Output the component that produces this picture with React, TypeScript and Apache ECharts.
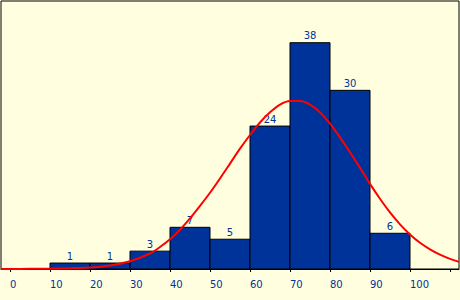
import React, { useEffect, useRef } from "react";
import * as echarts from "echarts";

const binStarts = [10, 20, 30, 40, 50, 60, 70, 80, 90];
const binWidth = 10;
const counts = [1, 1, 3, 7, 5, 24, 38, 30, 6];
const tickValues = [0, 10, 20, 30, 40, 50, 60, 70, 80, 90, 100, 110];
const labelValues = [0, 10, 20, 30, 40, 50, 60, 70, 80, 90, 100];
const curveX = [-2.25, 0, 5, 10, 15, 20, 25, 30, 35, 37.5, 40, 42.5, 45, 47.5, 50, 52.5, 55, 57.5, 60, 62.5, 65, 67.5, 70, 72.5, 75, 77.5, 80, 82.5, 85, 87.5, 90, 92.5, 95, 97.5, 100, 102.5, 105, 107.5, 110, 112.25];
const curveY = [0, 0.01, 0.03, 0.06, 0.13, 0.25, 0.6, 1.3, 2.6, 3.7, 5.0, 6.6, 8.5, 10.6, 12.8, 15.2, 17.7, 20.2, 22.5, 24.6, 26.3, 27.6, 28.2, 28.2, 27.6, 26.3, 24.4, 22.1, 19.6, 17.0, 14.3, 11.8, 9.5, 7.5, 5.8, 4.4, 3.3, 2.4, 1.7, 1.2];

const FONT = "DejaVu Sans";
const BLUE = "#003399";

export default function App() {
  const ref = useRef<HTMLDivElement>(null);
  useEffect(() => {
    if (!ref.current) return;
    const chart = echarts.init(ref.current, null, { renderer: "svg" });
    const histData = binStarts.map((s, i) => [s, s + binWidth, counts[i]]);
    chart.setOption({
      animation: false,
      backgroundColor: "#ffffe0",
      grid: {
        left: 1,
        top: 1,
        right: 1,
        bottom: 31,
        show: true,
        borderColor: "#000",
        borderWidth: 1,
        backgroundColor: "transparent",
      },
      xAxis: {
        type: "value",
        min: -2.25,
        max: 112.25,
        splitLine: { show: false },
        axisLine: { show: true, lineStyle: { color: "#000", width: 1 } },
        axisTick: {
          show: true,
          length: 3,
          lineStyle: { color: "#000" },
          customValues: tickValues,
        },
        axisLabel: {
          customValues: labelValues,
          color: BLUE,
          fontFamily: FONT,
          fontSize: 10,
          align: "left",
          margin: 10,
          showMinLabel: true,
          showMaxLabel: true,
        },
      },
      yAxis: {
        type: "value",
        min: 0,
        max: 45,
        show: false,
        splitLine: { show: false },
      },
      series: [
        {
          type: "custom",
          z: 2,
          data: histData,
          encode: { x: [0, 1], y: 2 },
          renderItem: (params: any, api: any) => {
            const x0 = api.value(0);
            const x1 = api.value(1);
            const v = api.value(2);
            const p0 = api.coord([x0, v]);
            const p1 = api.coord([x1, 0]);
            return {
              type: "group",
              children: [
                {
                  type: "rect",
                  shape: { x: p0[0], y: p0[1], width: p1[0] - p0[0], height: p1[1] - p0[1] },
                  style: { fill: "#003399", stroke: "#000", lineWidth: 1 },
                },
                {
                  type: "text",
                  x: (p0[0] + p1[0]) / 2,
                  y: p0[1] - 2,
                  style: {
                    text: String(v),
                    fill: BLUE,
                    font: `10px "${FONT}"`,
                    align: "center",
                    verticalAlign: "bottom",
                  },
                },
              ],
            };
          },
        },
        {
          type: "line",
          z: 5,
          data: curveX.map((x, i) => [x, curveY[i]]),
          smooth: 0.3,
          showSymbol: false,
          symbol: "none",
          lineStyle: { color: "#ff0000", width: 2 },
        },
      ],
    });
    return () => chart.dispose();
  }, []);
  return (
    <div
      ref={ref}
      style={{ position: "fixed", left: 0, top: 0, width: 460, height: 300 }}
    />
  );
}
